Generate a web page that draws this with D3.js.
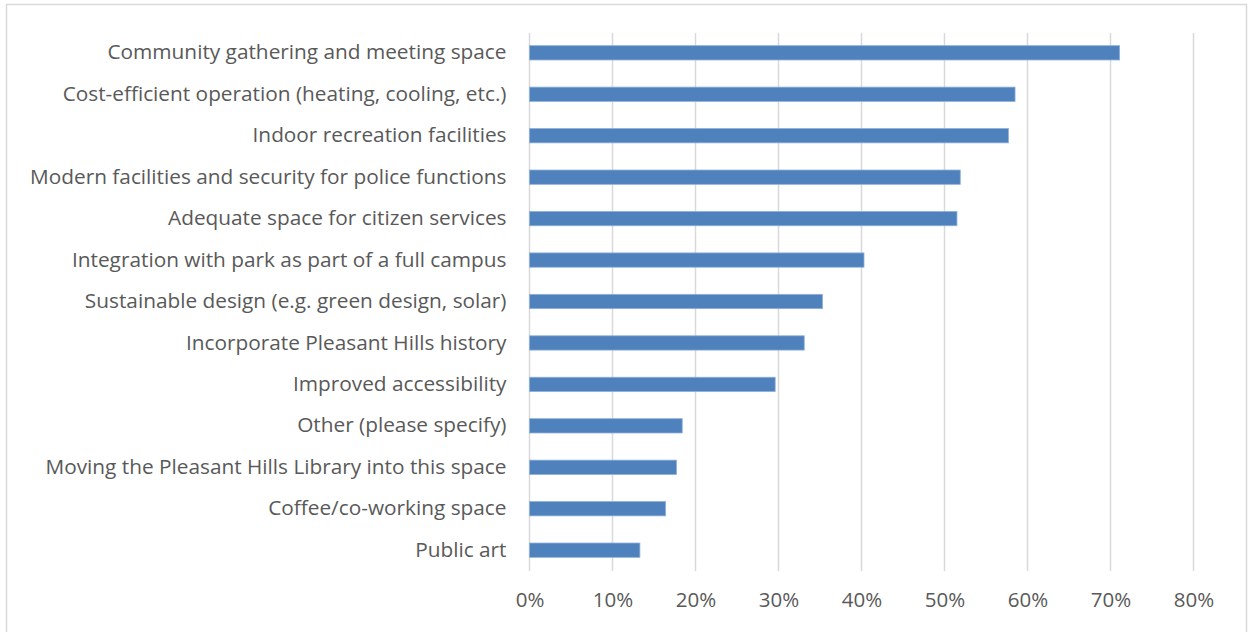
<!DOCTYPE html>
<html>
<head>
<meta charset="utf-8">
<script src="https://cdn.jsdelivr.net/npm/d3@7"></script>
<style>
  html, body { margin: 0; padding: 0; background: #fff; }
  svg { display: block; }
</style>
</head>
<body>
<svg id="chart" width="1248" height="632"></svg>
<script>
const categories = [
  "Community gathering and meeting space",
  "Cost-efficient operation (heating, cooling, etc.)",
  "Indoor recreation facilities",
  "Modern facilities and security for police functions",
  "Adequate space for citizen services",
  "Integration with park as part of a full campus",
  "Sustainable design (e.g. green design, solar)",
  "Incorporate Pleasant Hills history",
  "Improved accessibility",
  "Other (please specify)",
  "Moving the Pleasant Hills Library into this space",
  "Coffee/co-working space",
  "Public art"
];
const values = [71.1, 58.5, 57.7, 51.9, 51.5, 40.3, 35.3, 33.1, 29.6, 18.4, 17.7, 16.4, 13.3];
const tickValues = [0, 10, 20, 30, 40, 50, 60, 70, 80];

const svg = d3.select("#chart");
const fontFamily = "'Open Sans', sans-serif";

// outer border
svg.append("rect")
  .attr("x", 6.5).attr("y", 4.5)
  .attr("width", 1240).attr("height", 640)
  .attr("fill", "none").attr("stroke", "#d9d9d9").attr("stroke-width", 1.5);

const x = d3.scaleLinear().domain([0, 80]).range([529.5, 1193.5]);
const y = d3.scaleBand().domain(categories).range([32, 571]).paddingInner(0.655).paddingOuter(0.33);

// gridlines
svg.append("g").selectAll("line").data(tickValues).join("line")
  .attr("x1", d => x(d)).attr("x2", d => x(d))
  .attr("y1", 33).attr("y2", 571)
  .attr("stroke", "#d9d9d9").attr("stroke-width", 1.5);

// bars
svg.append("g").selectAll("rect").data(categories).join("rect")
  .attr("x", x(0))
  .attr("y", d => y(d))
  .attr("width", (d, i) => x(values[i]) - x(0))
  .attr("height", y.bandwidth())
  .attr("fill", "#4f81bd")
  .attr("stroke", "#8db0dc").attr("stroke-width", 0.8);

// category labels
const yAxis = d3.axisLeft(y).tickSize(0).tickPadding(23);
const gy = svg.append("g").attr("transform", `translate(${x(0)},0)`).call(yAxis);
gy.select(".domain").remove();
gy.selectAll("text")
  .attr("font-family", fontFamily).attr("font-size", 20.8).attr("fill", "#595959");

// x axis labels
const xAxis = d3.axisBottom(x).tickValues(tickValues).tickFormat(d => d + "%").tickSize(0).tickPadding(21);
const gx = svg.append("g").attr("transform", "translate(0,571)").call(xAxis);
gx.select(".domain").remove();
gx.selectAll("text")
  .attr("font-family", fontFamily).attr("font-size", 20.5).attr("fill", "#595959");
</script>
</body>
</html>
